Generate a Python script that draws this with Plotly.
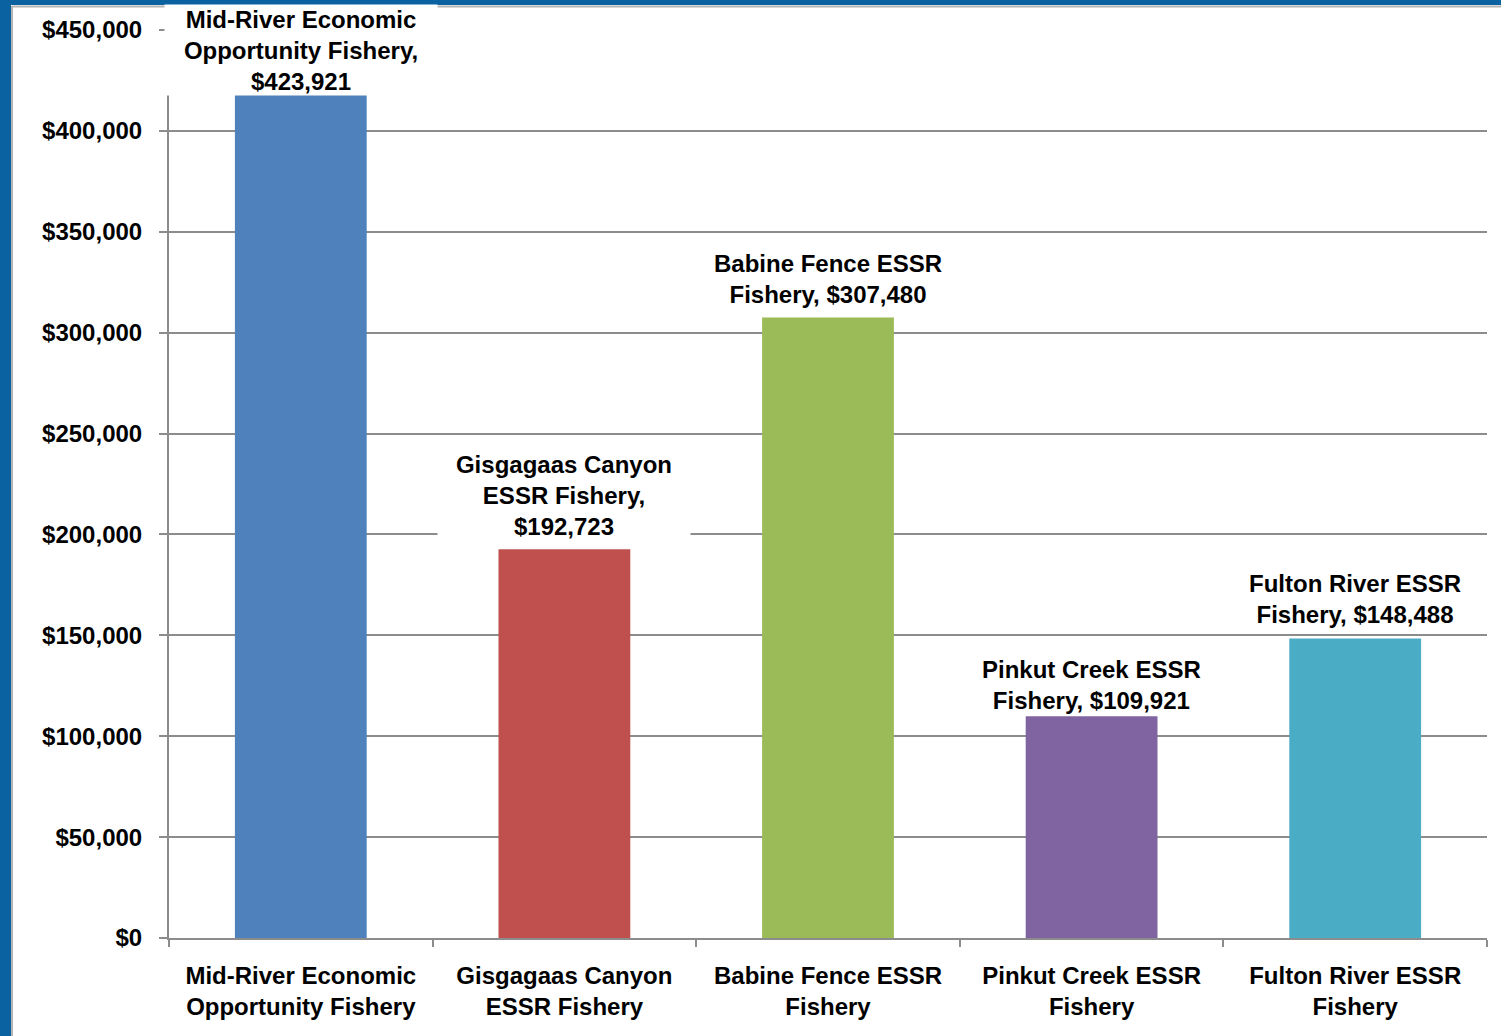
import plotly.graph_objects as go

# Fishery names (axis labels) and their dollar values
categories = [
    "Mid-River Economic<br>Opportunity Fishery",
    "Gisgagaas Canyon<br>ESSR Fishery",
    "Babine Fence ESSR<br>Fishery",
    "Pinkut Creek ESSR<br>Fishery",
    "Fulton River ESSR<br>Fishery",
]
values = [423921, 192723, 307480, 109921, 148488]
# whether the dollar amount in the data label sits on its own line
value_own_line = [True, True, False, False, False]
y_tick_values = [0, 50000, 100000, 150000, 200000, 250000, 300000, 350000, 400000, 450000]

bar_colors = ["#4F81BD", "#C0504D", "#9BBB59", "#8064A2", "#4BACC6"]
label_shift = [-13, 8, 9, 1, 9]
label_width = [272, 252, None, None, None]
label_height = [90, None, None, None, None]

FONT = "Liberation Sans, Arial, sans-serif"
FS = 24
GRID = "#8C8C8C"
W, H = 1501, 1036
ML, MR, MT, MB = 169, 14, 30, 98
PW, PH = W - ML - MR, H - MT - MB


def px_to_paper_x(px):
    return (px - ML) / PW


def px_to_paper_y(py):
    return (H - MB - py) / PH


fig = go.Figure(
    go.Bar(
        x=categories,
        y=values,
        marker=dict(color=bar_colors, line=dict(width=0)),
        showlegend=False,
    )
)

for cat, v, own, dy, wd, ht in zip(categories, values, value_own_line,
                                   label_shift, label_width, label_height):
    sep = ",<br>" if own else ", "
    fig.add_annotation(
        x=cat,
        y=v,
        xref="x",
        yref="y",
        text=f"{cat}{sep}${v:,}",
        showarrow=False,
        yanchor="bottom",
        yshift=dy,
        bgcolor="white",
        borderpad=0,
        width=wd,
        height=ht,
        valign="bottom",
        font=dict(family=FONT, size=FS, color="black", weight="bold"),
    )

# slide background frame along the top and left edges
blue = "#0B62A0"
fig.add_shape(type="rect", xref="paper", yref="paper",
              x0=px_to_paper_x(0), x1=px_to_paper_x(W),
              y0=px_to_paper_y(5), y1=px_to_paper_y(0),
              fillcolor=blue, line_width=0, layer="above")
fig.add_shape(type="rect", xref="paper", yref="paper",
              x0=px_to_paper_x(0), x1=px_to_paper_x(11),
              y0=px_to_paper_y(H), y1=px_to_paper_y(0),
              fillcolor=blue, line_width=0, layer="above")
fig.add_shape(type="line", xref="paper", yref="paper",
              x0=px_to_paper_x(12), x1=px_to_paper_x(W),
              y0=px_to_paper_y(6.5), y1=px_to_paper_y(6.5),
              line=dict(color="#B4B4B4", width=2), layer="above")
fig.add_shape(type="line", xref="paper", yref="paper",
              x0=px_to_paper_x(12), x1=px_to_paper_x(12),
              y0=px_to_paper_y(H), y1=px_to_paper_y(6),
              line=dict(color="#B4B4B4", width=2), layer="above")

fig.update_layout(
    width=W,
    height=H,
    margin=dict(l=ML, r=MR, t=MT, b=MB, pad=0, autoexpand=False),
    paper_bgcolor="white",
    plot_bgcolor="white",
    bargap=0.5,
    font=dict(family=FONT, size=FS, color="black", weight="bold"),
    xaxis=dict(
        type="category",
        range=[-0.5, len(categories) - 0.5],
        automargin=False,
        showgrid=False,
        showline=True,
        linecolor=GRID,
        linewidth=2,
        ticks="outside",
        tickson="boundaries",
        ticklen=7,
        tickwidth=1.5,
        tickcolor=GRID,
        tickfont=dict(family=FONT, size=FS, color="black", weight="bold"),
        ticklabelstandoff=15,
        zeroline=False,
    ),
    yaxis=dict(
        range=[0, 450000],
        automargin=False,
        tickvals=y_tick_values,
        tickformat="$,.0f",
        showgrid=True,
        gridcolor=GRID,
        gridwidth=1.5,
        showline=True,
        linecolor=GRID,
        linewidth=2,
        ticks="outside",
        ticklen=8,
        tickwidth=1.5,
        tickcolor=GRID,
        tickfont=dict(family=FONT, size=FS, color="black", weight="bold"),
        ticklabelstandoff=12,
        zeroline=False,
    ),
)

fig.write_html("out.html")
